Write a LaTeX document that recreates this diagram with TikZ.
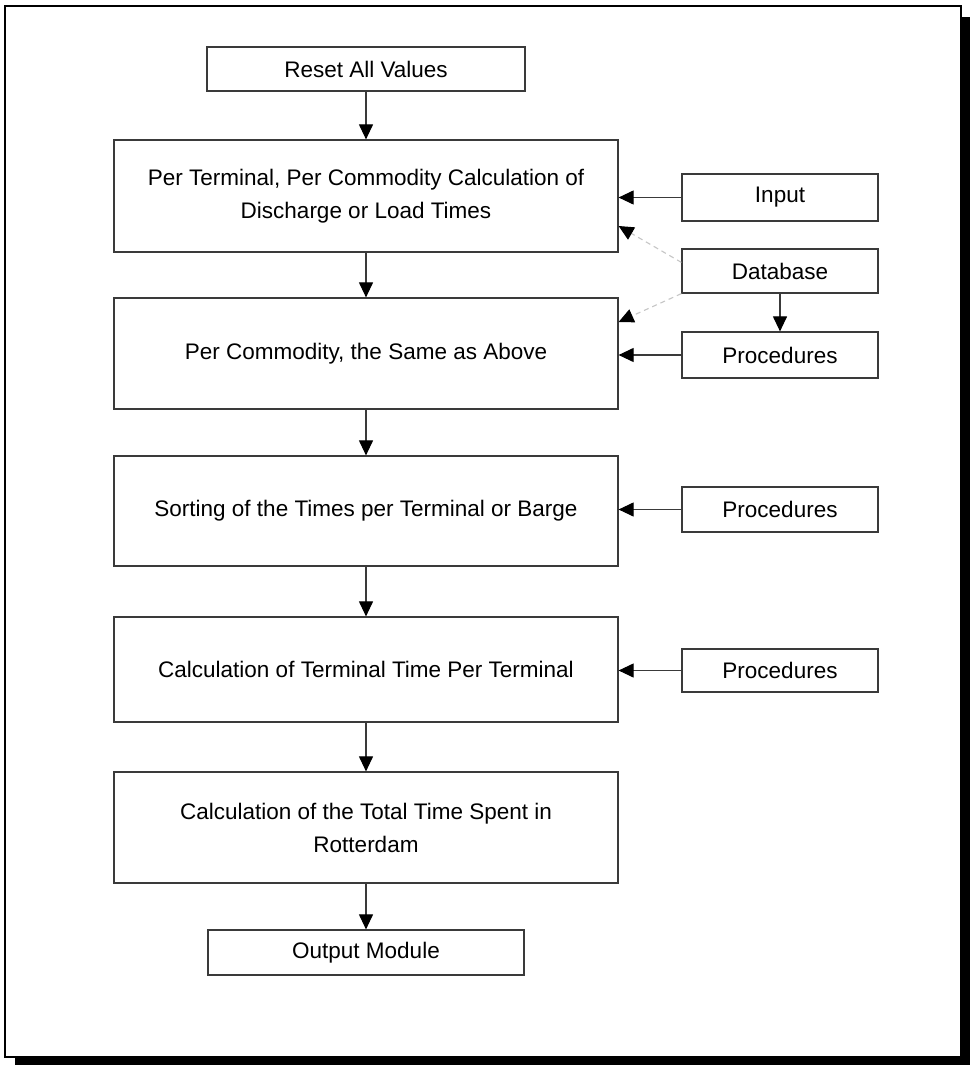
\documentclass[tikz,border=0pt]{standalone}
\usepackage{fontspec}
\setmainfont{Liberation Sans}
\usetikzlibrary{arrows.meta}
\definecolor{edge}{HTML}{3A3A3A}
\tikzset{
  box/.style={draw=edge, line width=1.2pt, fill=white, inner sep=0pt, align=center,
    font=\fontsize{22.5}{33}\selectfont},
  link/.style={draw=edge, line width=1.1pt, -{Triangle[length=15pt,width=14pt,color=black]}},
  faint/.style={draw=gray!45, line width=1.1pt, dash pattern=on 5pt off 4pt,
    -{Triangle[length=15pt,width=14pt,color=black]}}
}
\begin{document}
\begin{tikzpicture}[x=1pt,y=-1pt]
\useasboundingbox (0,0) rectangle (970,1065);
% frame with shadow
\fill[black] (15,17) rectangle (970,1065);
\draw[black, line width=2pt, fill=white] (5,6) rectangle (961,1057);

\node[box, minimum width=318pt, minimum height=44pt] (reset) at (366,69) {Reset All Values};
\node[box, minimum width=504pt, minimum height=112pt] (b1) at (366,196)
  {Per Terminal, Per Commodity Calculation of\\Discharge or Load Times};
\node[box, minimum width=196pt, minimum height=47pt] (input) at (780,197.5) {Input};
\node[box, minimum width=196pt, minimum height=44pt] (db) at (780,271) {Database};
\node[box, minimum width=504pt, minimum height=111pt] (b2) at (366,353.5) {Per Commodity, the Same as Above};
\node[box, minimum width=196pt, minimum height=46pt] (p1) at (780,355) {Procedures};
\node[box, minimum width=504pt, minimum height=110pt] (b3) at (366,511) {Sorting of the Times per Terminal or Barge};
\node[box, minimum width=196pt, minimum height=45pt] (p2) at (780,509.5) {Procedures};
\node[box, minimum width=504pt, minimum height=105pt] (b4) at (366,669.5) {Calculation of Terminal Time Per Terminal};
\node[box, minimum width=196pt, minimum height=43pt] (p3) at (780,670.5) {Procedures};
\node[box, minimum width=504pt, minimum height=111pt] (b5) at (366,827.5)
  {Calculation of the Total Time Spent in\\Rotterdam};
\node[box, minimum width=316pt, minimum height=45pt] (out) at (366,952.5) {Output Module};

% main flow
\draw[link] (reset.south) -- (b1.north);
\draw[link] (b1.south) -- (b2.north);
\draw[link] (b2.south) -- (b3.north);
\draw[link] (b3.south) -- (b4.north);
\draw[link] (b4.south) -- (b5.north);
\draw[link] (b5.south) -- (out.north);

% side inputs
\draw[link] (input.west) -- (input.west -| b1.east);
\draw[link] (p1.west) -- (p1.west -| b2.east);
\draw[link] (p2.west) -- (p2.west -| b3.east);
\draw[link] (p3.west) -- (p3.west -| b4.east);
\draw[link] (db.south) -- (p1.north);

% faint database links
\coordinate (dbA) at ([yshift=-14pt]db.north west);
\coordinate (b1A) at ([yshift=-30pt]b1.east);
\coordinate (b2A) at ([yshift=31.5pt]b2.east);
\draw[faint] (dbA) -- (b1A);
\draw[faint] (db.south west) -- (b2A);
\end{tikzpicture}
\end{document}
